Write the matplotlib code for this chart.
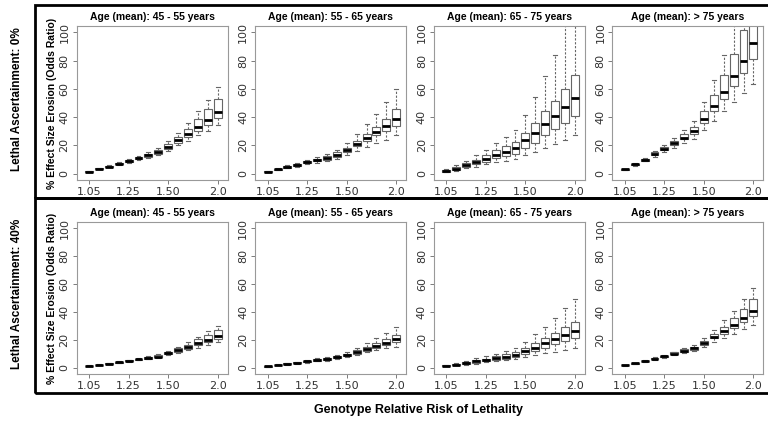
import matplotlib
matplotlib.use('Agg')
import matplotlib.pyplot as plt
from matplotlib.patches import Rectangle

# x categories (genotype relative risk) and tick labels
rr_values = [1.05, 1.10, 1.15, 1.20, 1.25, 1.30, 1.35, 1.40, 1.50, 1.60, 1.70, 1.80, 1.90, 2.0]
tick_pos = [1, 5, 9, 14]
tick_labels = ['1.05', '1.25', '1.50', '2.0']
age_groups = ['45 - 55 years', '55 - 65 years', '65 - 75 years', '> 75 years']
ascertainment = ['0%', '40%']

# Lethal ascertainment 0%, age 45-55
p00_lo  = [1.1, 3.0, 4.4, 6.1, 7.8, 9.5, 11.0, 13.0, 16.0, 20.0, 23.0, 27.0, 30.5, 34.5]
p00_q1  = [1.3, 3.2, 4.7, 6.6, 8.4, 10.3, 12.0, 14.0, 17.5, 21.5, 26.0, 30.5, 34.5, 39.5]
p00_med = [1.5, 3.5, 5.0, 7.0, 9.0, 11.0, 13.0, 15.0, 19.0, 23.5, 28.0, 33.0, 38.0, 43.5]
p00_q3  = [1.7, 3.8, 5.4, 7.5, 9.5, 11.8, 14.0, 16.5, 21.0, 26.0, 31.5, 38.5, 45.5, 53.0]
p00_hi  = [1.9, 4.0, 5.8, 8.0, 10.2, 12.6, 15.0, 18.0, 23.0, 29.0, 36.0, 44.0, 52.0, 61.5]

# 0%, age 55-65
p01_lo  = [1.0, 2.4, 3.8, 5.0, 6.5, 7.7, 8.8, 10.5, 13.5, 16.0, 19.0, 21.5, 24.0, 27.0]
p01_q1  = [1.2, 2.7, 4.3, 5.5, 7.3, 8.6, 10.0, 12.0, 15.5, 19.5, 23.0, 27.0, 30.0, 34.0]
p01_med = [1.5, 3.0, 4.7, 6.0, 8.0, 9.5, 11.0, 13.0, 17.0, 21.0, 25.0, 29.5, 34.0, 39.0]
p01_q3  = [1.8, 3.3, 5.2, 6.7, 8.8, 10.7, 12.5, 15.0, 18.5, 23.0, 28.0, 33.0, 39.0, 46.0]
p01_hi  = [2.0, 3.7, 5.8, 7.5, 9.8, 12.0, 14.0, 17.0, 22.0, 28.0, 35.0, 42.5, 51.0, 60.0]

# 0%, age 65-75
p02_lo  = [1.0, 2.0, 4.0, 5.0, 6.5, 8.0, 9.0, 10.5, 13.5, 15.5, 18.5, 21.0, 24.0, 27.0]
p02_q1  = [1.5, 2.8, 5.0, 6.5, 8.5, 11.0, 12.5, 14.0, 18.0, 22.0, 27.0, 31.5, 36.0, 41.0]
p02_med = [2.0, 3.5, 6.0, 8.5, 10.5, 13.0, 15.5, 18.0, 23.5, 29.0, 35.0, 41.0, 47.0, 53.5]
p02_q3  = [2.5, 4.8, 7.5, 10.0, 13.0, 16.5, 19.5, 22.5, 29.0, 36.0, 44.0, 51.5, 60.0, 69.5]
p02_hi  = [3.0, 6.0, 9.0, 13.0, 17.0, 21.5, 26.0, 31.0, 41.5, 54.5, 69.0, 84.0, 110.0, 115.0]

# 0%, age > 75
p03_lo  = [2.5, 5.5, 8.7, 12.0, 15.0, 18.5, 21.5, 24.5, 31.0, 37.5, 44.0, 50.5, 57.0, 63.5]
p03_q1  = [2.7, 6.0, 9.3, 13.0, 16.5, 20.0, 24.5, 28.0, 36.0, 44.0, 52.5, 62.0, 71.0, 81.0]
p03_med = [3.0, 6.5, 10.0, 14.0, 17.5, 21.5, 25.5, 30.0, 39.0, 48.0, 58.0, 69.0, 80.0, 92.5]
p03_q3  = [3.3, 7.0, 10.7, 15.0, 19.0, 23.0, 28.0, 33.0, 44.0, 56.0, 70.0, 85.0, 101.5, 115.0]
p03_hi  = [3.5, 7.5, 11.3, 16.0, 20.5, 25.0, 31.0, 37.0, 50.5, 66.5, 84.0, 112.0, 115.0, 120.0]

# Lethal ascertainment 40%, age 45-55
p10_lo  = [1.0, 1.6, 2.6, 3.2, 4.4, 5.2, 6.0, 6.8, 9.0, 10.5, 12.5, 14.5, 16.5, 18.5]
p10_q1  = [1.1, 1.8, 2.8, 3.5, 4.7, 5.6, 6.5, 7.4, 9.8, 11.5, 13.5, 16.0, 18.5, 20.5]
p10_med = [1.3, 2.0, 3.0, 3.8, 5.0, 6.0, 7.0, 8.0, 10.5, 12.5, 15.0, 17.5, 20.0, 23.0]
p10_q3  = [1.5, 2.3, 3.3, 4.2, 5.4, 6.5, 7.6, 8.8, 11.3, 13.8, 16.5, 20.5, 23.5, 27.0]
p10_hi  = [1.6, 2.5, 3.5, 4.5, 5.8, 7.0, 8.2, 9.5, 12.0, 15.0, 18.5, 22.0, 26.0, 30.0]

# 40%, age 55-65
p11_lo  = [0.6, 1.6, 2.2, 2.8, 3.7, 4.5, 5.0, 6.0, 7.5, 9.0, 11.0, 12.5, 14.0, 15.0]
p11_q1  = [0.8, 1.8, 2.5, 3.2, 4.1, 5.0, 5.8, 6.8, 8.2, 10.0, 12.3, 14.3, 16.5, 18.5]
p11_med = [1.0, 2.0, 2.8, 3.5, 4.5, 5.5, 6.5, 7.5, 9.0, 11.0, 13.5, 15.5, 18.0, 20.5]
p11_q3  = [1.2, 2.3, 3.1, 4.0, 5.0, 6.2, 7.2, 8.3, 10.2, 12.5, 15.0, 17.5, 20.5, 23.5]
p11_hi  = [1.4, 2.5, 3.4, 4.3, 5.4, 7.0, 8.0, 9.0, 11.5, 14.5, 17.5, 21.0, 25.0, 29.0]

# 40%, age 65-75
p12_lo  = [0.9, 1.7, 2.3, 3.0, 3.8, 4.8, 5.3, 6.0, 7.5, 9.0, 10.5, 11.5, 13.0, 14.5]
p12_q1  = [1.1, 2.0, 2.8, 3.7, 4.7, 5.8, 6.5, 7.5, 10.0, 12.0, 14.5, 17.0, 19.0, 21.5]
p12_med = [1.3, 2.3, 3.3, 4.5, 5.5, 7.0, 8.0, 9.0, 12.0, 14.5, 17.5, 20.5, 23.5, 26.5]
p12_q3  = [1.6, 2.8, 4.0, 5.5, 6.5, 8.5, 9.5, 11.0, 14.5, 17.5, 21.0, 25.0, 29.0, 33.0]
p12_hi  = [1.8, 3.2, 4.8, 7.0, 8.5, 10.0, 12.0, 14.0, 18.5, 24.0, 29.5, 35.5, 42.5, 49.5]

# 40%, age > 75
p13_lo  = [1.4, 2.8, 4.2, 5.7, 7.2, 9.0, 10.5, 12.0, 15.0, 18.5, 21.5, 24.0, 27.5, 30.5]
p13_q1  = [1.6, 3.0, 4.5, 6.1, 7.7, 9.6, 11.3, 13.0, 16.5, 21.0, 24.5, 28.5, 32.5, 37.0]
p13_med = [1.8, 3.2, 4.8, 6.5, 8.2, 10.2, 12.2, 14.0, 17.5, 22.0, 26.0, 30.5, 35.5, 40.5]
p13_q3  = [2.0, 3.5, 5.1, 7.0, 8.7, 11.0, 13.2, 15.0, 19.5, 24.0, 29.5, 35.5, 42.0, 49.0]
p13_hi  = [2.2, 3.7, 5.4, 7.4, 9.2, 11.6, 14.0, 16.0, 21.5, 27.0, 34.0, 41.0, 49.0, 57.0]

panels = [
    [(p00_lo, p00_q1, p00_med, p00_q3, p00_hi), (p01_lo, p01_q1, p01_med, p01_q3, p01_hi),
     (p02_lo, p02_q1, p02_med, p02_q3, p02_hi), (p03_lo, p03_q1, p03_med, p03_q3, p03_hi)],
    [(p10_lo, p10_q1, p10_med, p10_q3, p10_hi), (p11_lo, p11_q1, p11_med, p11_q3, p11_hi),
     (p12_lo, p12_q1, p12_med, p12_q3, p12_hi), (p13_lo, p13_q1, p13_med, p13_q3, p13_hi)],
]

W, H = 768, 426
BOLD = 'Liberation Sans'
fig = plt.figure(figsize=(W / 100, H / 100), dpi=100)


def px_rect(left, top, w, h):
    return [left / W, 1 - (top + h) / H, w / W, h / H]


# outer frames around each row
for top, h in [(5, 193), (198, 195)]:
    fig.patches.append(Rectangle((35 / W, 1 - (top + h) / H), 740 / W, h / H,
                                 transform=fig.transFigure, fill=False,
                                 edgecolor='black', linewidth=2))

row_tops = [26, 222]
row_heights = [154, 152]
grey = '#666666'

for r in range(2):
    for c in range(4):
        ax = fig.add_axes(px_rect(76.5 + 178.6 * c, row_tops[r], 151, row_heights[r]))
        lo, q1, med, q3, hi = panels[r][c]
        stats = [dict(whislo=lo[i], q1=q1[i], med=med[i], q3=q3[i], whishi=hi[i])
                 for i in range(len(rr_values))]
        ax.bxp(stats, positions=range(1, len(rr_values) + 1), widths=0.8,
               showfliers=False, patch_artist=True, capwidths=0.4,
               boxprops=dict(facecolor='white', edgecolor=grey, linewidth=0.8),
               medianprops=dict(color='black', linewidth=2),
               whiskerprops=dict(color=grey, linestyle=(0, (2, 1.5)), linewidth=0.8),
               capprops=dict(color=grey, linewidth=0.8))
        ax.set_xlim(-0.27, 15.0)
        ax.set_ylim(-4.5, 104.5)
        ax.set_xticks(tick_pos)
        ax.set_xticklabels(tick_labels, fontsize=8, color='#333333')
        ax.set_yticks(range(0, 101, 20))
        ax.set_yticklabels([str(v) for v in range(0, 101, 20)], rotation=90,
                           va='center', fontsize=8, color='#333333')
        ax.tick_params(length=3, width=0.6, color=grey, pad=2)
        for s in ax.spines.values():
            s.set_color('#999999')
            s.set_linewidth(0.8)
        ax.set_title('Age (mean): ' + age_groups[c], fontsize=7.5,
                     fontweight='bold', family=BOLD, pad=4)
        if c == 0:
            ax.set_ylabel('% Effect Size Erosion (Odds Ratio)', fontsize=7.5,
                          fontweight='bold', family=BOLD, labelpad=2)

    fig.text(17 / W, 1 - (row_tops[r] + row_heights[r] / 2 - 4) / H,
             'Lethal Ascertainment: ' + ascertainment[r], rotation=90,
             ha='center', va='center', fontsize=8.5, fontweight='bold', family=BOLD)

fig.text(418 / W, 1 - 410 / H, 'Genotype Relative Risk of Lethality',
         ha='center', va='center', fontsize=9, fontweight='bold', family=BOLD)

fig.savefig('out.png', dpi=100)
